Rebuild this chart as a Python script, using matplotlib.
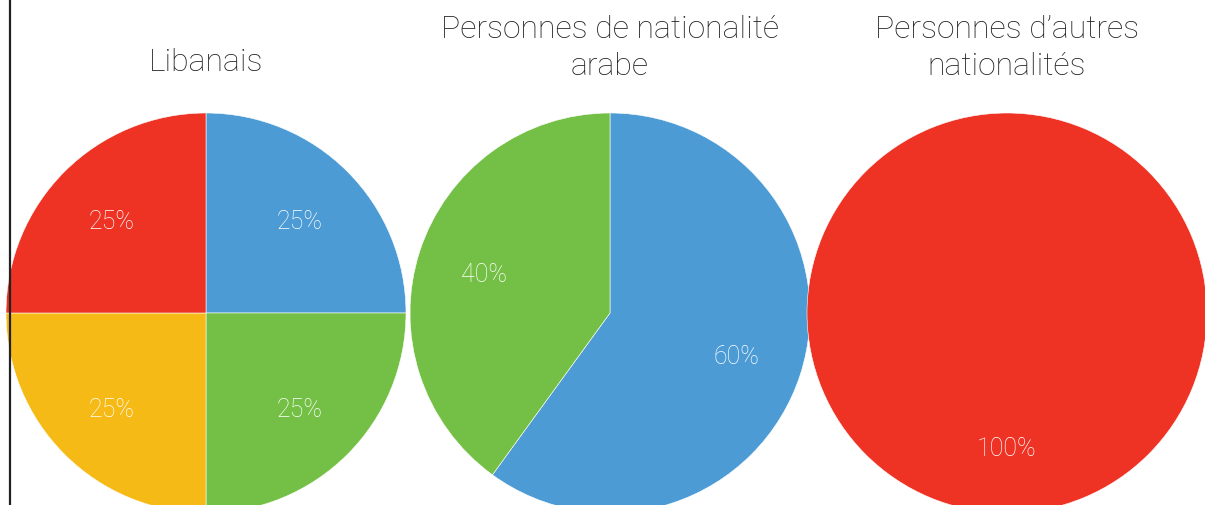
import matplotlib
matplotlib.use("Agg")
import matplotlib.pyplot as plt
import matplotlib.transforms as mtransforms
from matplotlib import font_manager

# ---- data ----
titles = ["Libanais", "Personnes de nationalité\narabe", "Personnes d\u2019autres\nnationalités"]
lib_values = [25, 25, 25, 25]
lib_colors = ["#4C9BD5", "#74BF45", "#F6BA17", "#EE3325"]
arab_values = [60, 40]
arab_colors = ["#4C9BD5", "#74BF45"]
other_values = [100]
other_colors = ["#EE3325"]

series = [lib_values, arab_values, other_values]
colors = [lib_colors, arab_colors, other_colors]

# ---- layout (pixel space) ----
W, H = 1205, 506
centers_x = [206, 610, 1007]
center_y = H - 314
R = 200

names = {f.name for f in font_manager.fontManager.ttflist}
family = ["Roboto", "DejaVu Sans"] if "Roboto" in names else ["DejaVu Sans"]
plt.rcParams["font.family"] = family

fig = plt.figure(figsize=(W / 100, H / 100), dpi=100)
ax = fig.add_axes([0, 0, 1, 1])

shift = mtransforms.ScaledTranslation(0, -2 / 100, fig.dpi_scale_trans)
for vals, cols, cx, title in zip(series, colors, centers_x, titles):
    _, _, autotexts = ax.pie(
        vals, colors=cols, startangle=90, counterclock=False,
        center=(cx, center_y), radius=R, autopct="%d%%", pctdistance=0.665,
        wedgeprops=dict(edgecolor="white", linewidth=0.4),
        textprops=dict(color="white", fontsize=18, fontweight="light"),
        frame=True,
    )
    for t in autotexts:
        t.set_transform(t.get_transform() + shift)
    n_lines = title.count("\n") + 1
    ax.text(cx, H - 62 if n_lines == 1 else H - 48, title, ha="center", va="center",
            fontsize=23, color="#222222", fontweight="light", linespacing=1.32)

ax.set_xlim(0, W)
ax.set_ylim(0, H)
ax.set_aspect("equal")
ax.axis("off")

# left vertical rule
fig.add_artist(plt.Line2D([10 / W, 10 / W], [0, 1], color="#222222", linewidth=1.6))

fig.savefig("out.png", dpi=100)
